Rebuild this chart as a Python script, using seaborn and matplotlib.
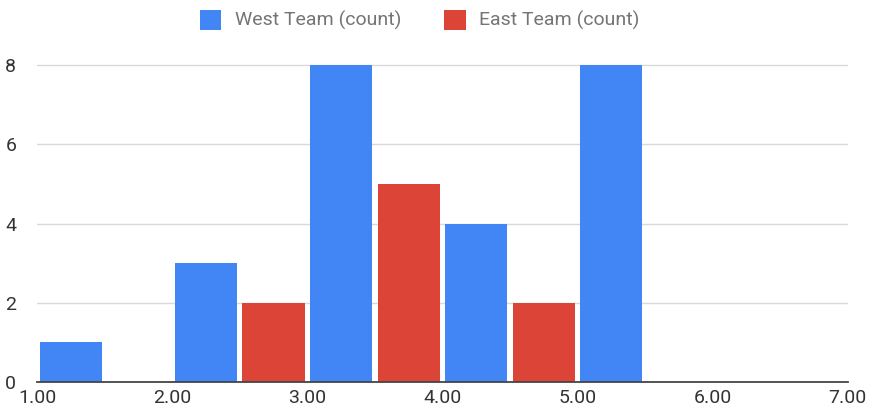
import numpy as np
import pandas as pd
import matplotlib
matplotlib.use("Agg")
import matplotlib.pyplot as plt
import seaborn as sns

# bins of width 1 starting at these values
bin_starts = [1, 2, 3, 4, 5, 6]
west_counts = [1, 3, 8, 4, 8, 0]
east_counts = [0, 2, 5, 2, 0, 0]
team_names = ["West Team (count)", "East Team (count)"]
x_ticks = [1, 2, 3, 4, 5, 6, 7]
y_ticks = [0, 2, 4, 6, 8]

# long table: one row per bin and team, weighted by the count
rows = []
for start, w, e in zip(bin_starts, west_counts, east_counts):
    rows.append({"value": start + 0.5, "count": w, "team": team_names[0]})
    rows.append({"value": start + 0.5, "count": e, "team": team_names[1]})
df = pd.DataFrame(rows)

sns.set_theme(style="white")
plt.rcParams["font.family"] = ["Roboto", "DejaVu Sans"]

fig = plt.figure(figsize=(8.84, 4.17), dpi=100)
ax = fig.add_axes([0.042, 0.084, 0.917, 0.779])

sns.histplot(data=df, x="value", weights="count", hue="team", hue_order=team_names,
             bins=x_ticks, multiple="dodge", shrink=1, alpha=1, linewidth=0,
             palette=["#4285F4", "#DB4437"], ax=ax)

# leave a small gap between the two bars of a bin
for p in ax.patches:
    w = p.get_width()
    p.set_x(p.get_x() + w * 0.04)
    p.set_width(w * 0.92)

ax.set_xlim(1, 7)
ax.set_ylim(0, 8.2)
ax.set_xticks(x_ticks)
ax.set_xticklabels([f"{v:.2f}" for v in x_ticks])
ax.set_yticks(y_ticks)
ax.set_xlabel("")
ax.set_ylabel("")
ax.yaxis.grid(True, color="#d9d9d9", linewidth=1)
ax.set_axisbelow(True)
for side in ["top", "right", "left"]:
    ax.spines[side].set_visible(False)
ax.spines["bottom"].set_color("#444444")
ax.spines["bottom"].set_linewidth(1.3)
ax.tick_params(axis="both", length=0, colors="#333333", labelsize=14)
ax.tick_params(axis="x", pad=5)
ax.tick_params(axis="y", pad=15)

sns.move_legend(ax, "center", bbox_to_anchor=(0.472, 1.114), ncol=2, frameon=False,
                title=None, fontsize=14, handlelength=1.1, handleheight=1.2,
                columnspacing=2.2, handletextpad=0.7)
for t in ax.get_legend().get_texts():
    t.set_color("#757575")

fig.savefig("out.png", dpi=100)
